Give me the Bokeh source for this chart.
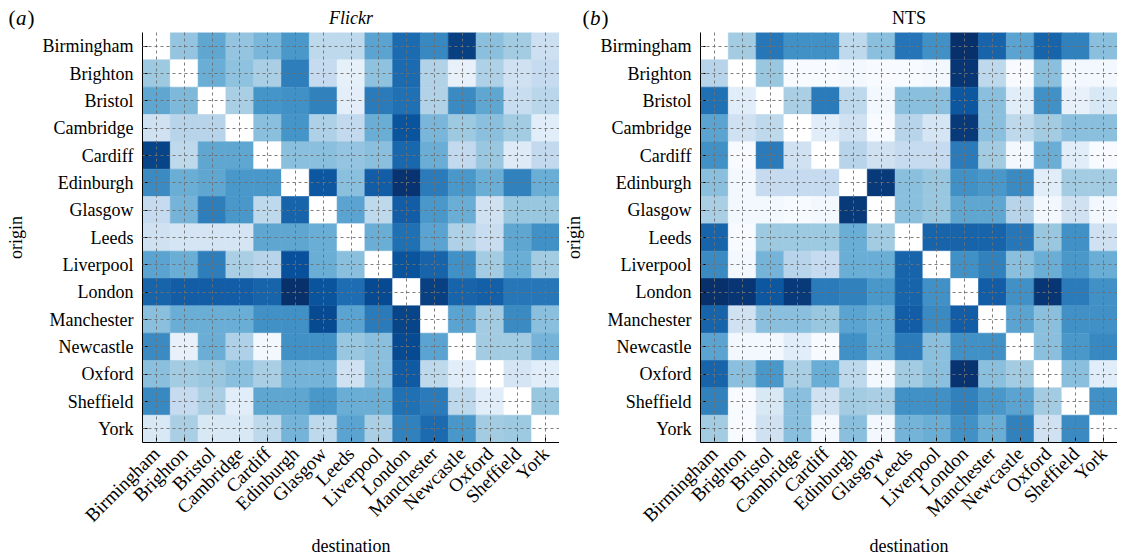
import math
from bokeh.plotting import figure
from bokeh.models import ColumnDataSource, Range1d, Label, FixedTicker
from bokeh.layouts import row, column
from bokeh.transform import linear_cmap
from bokeh.palettes import Blues256
from bokeh.embed import file_html
from bokeh.resources import INLINE

cities = ["Birmingham", "Brighton", "Bristol", "Cambridge", "Cardiff", "Edinburgh",
          "Glasgow", "Leeds", "Liverpool", "London", "Manchester", "Newcastle",
          "Oxford", "Sheffield", "York"]

# rows = origin, columns = destination (relative intensity, diagonal empty)
flickr = [
    [None, 3.2, 4.3, 3.2, 3.7, 4.8, 2.2, 2.2, 4.4, 6.2, 5.3, 7.5, 3.4, 2.9, 1.7],
    [3.0, None, 4.0, 3.3, 2.7, 5.6, 2.0, 0.7, 3.3, 6.2, 2.5, 0.6, 2.6, 1.6, 2.0],
    [4.3, 3.6, None, 2.7, 4.9, 5.0, 5.5, 0.8, 5.7, 6.0, 2.5, 5.2, 4.3, 1.9, 2.3],
    [1.6, 2.4, 2.4, None, 3.4, 4.9, 2.6, 2.1, 4.0, 6.9, 3.7, 3.0, 3.4, 2.9, 0.9],
    [7.4, 2.2, 4.3, 4.3, None, 3.4, 3.4, 3.2, 3.4, 6.3, 4.0, 2.1, 3.1, 1.0, 2.1],
    [5.2, 4.0, 4.3, 4.8, 4.8, None, 6.8, 3.4, 6.6, 7.9, 5.7, 4.8, 4.0, 5.5, 4.0],
    [2.0, 3.8, 5.6, 4.8, 2.2, 6.4, None, 4.4, 2.2, 6.6, 4.8, 4.0, 1.6, 3.1, 3.1],
    [1.6, 1.4, 1.4, 1.4, 4.3, 4.3, 4.0, None, 4.0, 6.0, 4.4, 2.6, 1.9, 4.3, 5.0],
    [4.4, 4.0, 5.6, 2.7, 2.4, 7.0, 4.0, 3.4, None, 6.9, 6.4, 5.0, 2.9, 4.0, 2.9],
    [6.4, 6.6, 6.6, 6.6, 6.4, 8.3, 6.9, 6.1, 7.2, None, 7.5, 6.4, 6.5, 5.8, 5.8],
    [3.4, 4.0, 4.0, 4.0, 5.0, 5.0, 7.2, 4.4, 5.7, 7.4, None, 4.4, 2.9, 5.2, 3.4],
    [5.2, 0.6, 4.0, 2.6, 0.2, 5.0, 5.0, 3.1, 3.4, 7.2, 4.4, None, 2.9, 2.9, 3.8],
    [3.4, 2.9, 3.1, 3.4, 2.7, 3.8, 3.8, 1.6, 3.4, 6.7, 2.2, 0.9, None, 1.4, 0.9],
    [5.3, 2.0, 2.7, 0.9, 4.3, 4.3, 4.8, 4.0, 4.0, 6.0, 5.7, 2.2, 0.9, None, 3.1],
    [1.2, 2.7, 1.2, 1.2, 2.2, 3.8, 2.2, 4.4, 2.7, 5.5, 6.2, 4.8, 2.9, 3.0, None],
]

nts = [
    [None, 2.9, 5.8, 5.0, 5.0, 2.2, 3.4, 5.9, 5.0, 8.3, 6.4, 4.4, 6.4, 5.5, 3.4],
    [2.4, None, 3.1, 0.0, 0.0, 0.2, 0.0, 0.0, 0.2, 7.8, 2.2, 0.0, 3.4, 0.2, 0.2],
    [6.0, 0.9, None, 2.7, 5.7, 2.2, 0.2, 3.4, 3.4, 6.8, 3.4, 0.9, 5.0, 0.6, 1.2],
    [4.4, 1.6, 2.2, None, 0.9, 1.6, 0.0, 2.4, 1.4, 7.7, 3.4, 2.2, 2.9, 3.4, 3.4],
    [5.0, 0.0, 5.7, 1.6, None, 2.4, 1.6, 2.0, 2.0, 5.7, 2.9, 0.2, 4.0, 0.9, 0.0],
    [3.4, 0.2, 2.0, 2.0, 2.0, None, 7.7, 3.4, 3.1, 5.0, 4.8, 5.2, 0.9, 2.9, 2.9],
    [2.7, 0.2, 0.2, 0.0, 0.2, 7.7, None, 3.4, 3.1, 4.3, 4.3, 2.4, 0.2, 1.6, 0.2],
    [6.4, 0.0, 3.0, 3.0, 3.0, 4.0, 2.9, None, 6.4, 6.4, 6.4, 5.8, 3.1, 5.0, 1.6],
    [5.2, 0.2, 3.8, 2.4, 2.0, 4.0, 4.0, 6.4, None, 5.0, 5.5, 3.4, 4.0, 4.8, 4.0],
    [8.3, 7.8, 6.8, 7.7, 5.7, 5.5, 4.8, 6.4, 5.0, None, 6.6, 5.0, 7.8, 5.7, 5.0],
    [6.4, 1.6, 3.4, 3.4, 3.1, 4.4, 4.0, 6.6, 5.2, 6.6, None, 4.4, 3.4, 5.0, 5.0],
    [4.4, 0.2, 0.2, 0.9, 0.0, 5.0, 4.0, 5.7, 3.4, 5.0, 5.0, None, 3.4, 4.8, 5.3],
    [6.4, 3.4, 4.8, 2.7, 4.0, 2.2, 0.2, 2.9, 3.4, 7.9, 3.4, 2.9, None, 3.4, 0.9],
    [5.5, 0.0, 1.2, 3.4, 1.6, 2.9, 2.7, 5.0, 5.0, 5.5, 4.8, 4.4, 2.9, None, 5.0],
    [2.9, 0.0, 1.6, 3.4, 0.2, 3.4, 0.2, 3.8, 4.0, 5.0, 4.0, 5.5, 1.6, 5.2, None],
]

titles = ["Flickr", "NTS"]
panel_letters = ["a", "b"]

SERIF = "Liberation Serif"


def _lum(c):
    return int(c[1:3], 16) + int(c[3:5], 16) + int(c[5:7], 16)


palette = list(Blues256)
if _lum(palette[0]) < _lum(palette[-1]):
    palette = palette[::-1]   # light -> dark

N = len(cities)
centers = [k + 0.5 for k in range(N)]
overrides = {c: name for c, name in zip(centers, cities)}

HEAD_H = 32
MAIN_H = 527


def make_header(width, title, letter, frame_left, tag_left):
    # a text-only strip above each panel; y counts pixels down from its top
    h = figure(width=width, height=HEAD_H, x_range=Range1d(0, width),
               y_range=Range1d(HEAD_H, 0), output_backend="svg",
               toolbar_location=None, x_axis_location=None, y_axis_location=None,
               min_border=0)
    h.outline_line_color = None
    h.xgrid.visible = False
    h.ygrid.visible = False
    h.add_layout(Label(x=frame_left + 208.5, y=17.5, text=title, text_font=SERIF,
                       text_font_size="18px",
                       text_font_style="italic" if title == "Flickr" else "normal",
                       text_align="center", text_baseline="middle",
                       text_color="black"))
    h.add_layout(Label(x=tag_left, y=17, text="(", text_font=SERIF,
                       text_font_size="21px", text_align="left",
                       text_baseline="middle", text_color="black"))
    h.add_layout(Label(x=tag_left + 7.5, y=17, text=letter, text_font=SERIF,
                       text_font_size="21px", text_font_style="italic",
                       text_align="left", text_baseline="middle",
                       text_color="black"))
    h.add_layout(Label(x=tag_left + 19, y=17, text=")", text_font=SERIF,
                       text_font_size="21px", text_align="left",
                       text_baseline="middle", text_color="black"))
    return h


def make_panel(matrix, left_border, width):
    xs, ys, v = [], [], []
    for i, r in enumerate(matrix):
        for j, val in enumerate(r):
            xs.append(j + 0.5)
            ys.append(i + 0.5)
            v.append(float("nan") if val is None else val)
    src = ColumnDataSource(dict(x=xs, y=ys, v=v))
    p = figure(x_range=Range1d(0, N), y_range=Range1d(N, 0),
               width=width, height=MAIN_H, output_backend="svg", toolbar_location=None,
               min_border_left=left_border, min_border_right=0,
               min_border_top=0, min_border_bottom=MAIN_H - 418)
    cmap = linear_cmap("v", palette, 0, 8.0, nan_color="#ffffff")
    p.rect(x="x", y="y", width=1, height=1, source=src,
           fill_color=cmap, line_color=cmap, line_width=0.6)
    p.outline_line_color = None
    p.background_fill_color = "white"
    p.xaxis.ticker = FixedTicker(ticks=centers)
    p.yaxis.ticker = FixedTicker(ticks=centers)
    p.xaxis.major_label_overrides = overrides
    p.yaxis.major_label_overrides = overrides
    for g in (p.xgrid, p.ygrid):
        g.grid_line_color = "#707070"
        g.grid_line_dash = "3 3"
        g.grid_line_width = 1
        g.grid_line_alpha = 0.9
        g.level = "overlay"
    p.xgrid.ticker = FixedTicker(ticks=centers)
    p.ygrid.ticker = FixedTicker(ticks=centers)
    for ax in (p.xaxis, p.yaxis):
        ax.axis_line_color = "black"
        ax.axis_line_width = 1
        ax.major_tick_in = 5
        ax.major_tick_out = 0
        ax.major_tick_line_color = "black"
        ax.minor_tick_line_color = None
        ax.major_label_text_font = SERIF
        ax.major_label_text_font_size = "18px"
        ax.major_label_text_color = "black"
        ax.axis_label_text_font = SERIF
        ax.axis_label_text_font_size = "18px"
        ax.axis_label_text_font_style = "normal"
        ax.axis_label_text_color = "black"
    p.xaxis.major_label_text_font_size = "19px"
    p.xaxis.major_label_orientation = math.pi / 4
    p.xaxis.major_label_standoff = 8
    p.yaxis.major_label_standoff = 9
    p.yaxis.axis_label = "origin"
    p.yaxis.axis_label_standoff = 14
    p.xaxis.axis_label = "destination"
    p.xaxis.axis_label_standoff = 0
    return p


h1 = make_header(559, titles[0], panel_letters[0], 142, 8)
h2 = make_header(558, titles[1], panel_letters[1], 141, 23)
p1 = make_panel(flickr, 142, 559)
p2 = make_panel(nts, 141, 558)
layout = column(row(h1, h2), row(p1, p2))

open("out.html", "w").write(file_html(layout, INLINE))
